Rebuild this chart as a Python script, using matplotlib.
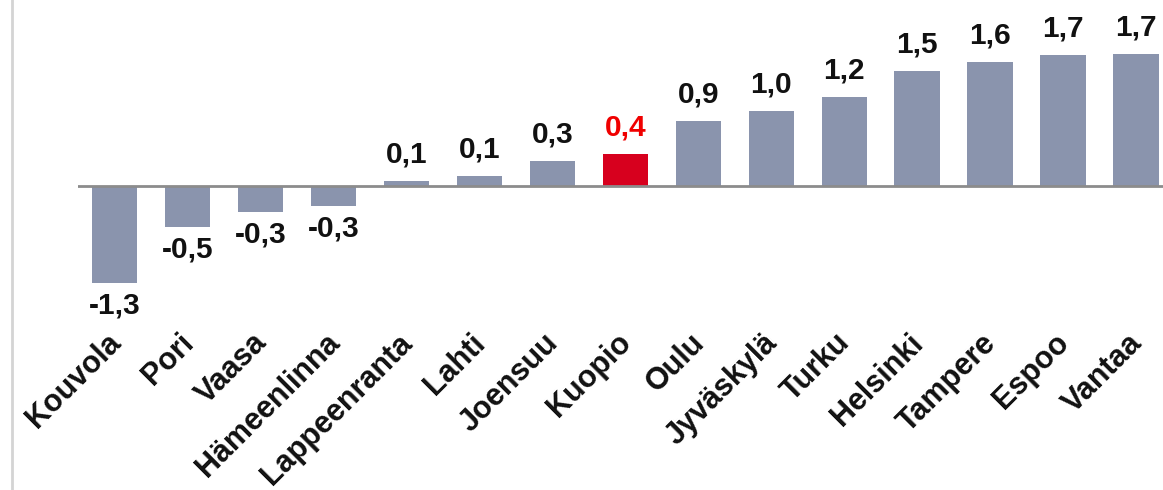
import matplotlib
matplotlib.use("Agg")
import matplotlib.pyplot as plt
from matplotlib.lines import Line2D
from matplotlib.transforms import ScaledTranslation

cities = ["Kouvola", "Pori", "Vaasa", "Hämeenlinna", "Lappeenranta", "Lahti",
          "Joensuu", "Kuopio", "Oulu", "Jyväskylä", "Turku", "Helsinki",
          "Tampere", "Espoo", "Vantaa"]
values = [-1.25, -0.53, -0.34, -0.26, 0.07, 0.13, 0.32, 0.41, 0.84, 0.97,
          1.15, 1.48, 1.60, 1.69, 1.70]
labels = ["-1,3", "-0,5", "-0,3", "-0,3", "0,1", "0,1", "0,3", "0,4", "0,9",
          "1,0", "1,2", "1,5", "1,6", "1,7", "1,7"]
highlight = "Kuopio"

plt.rcParams['font.family'] = ['Liberation Sans', 'DejaVu Sans']

W, H = 1163, 490
fig = plt.figure(figsize=(W / 100, H / 100), dpi=100)
ax = fig.add_axes([78 / W, 180 / H, 1085 / W, 310 / H])

bar_color = "#8A94AD"
red_bar = "#D7001E"
colors = [red_bar if c == highlight else bar_color for c in cities]
x = list(range(len(cities)))
ax.bar(x, values, width=0.62, color=colors, zorder=2)
ax.axhline(0, color="#8C8C8C", lw=2, zorder=3)

for xi, v, lab, c in zip(x, values, labels, cities):
    col = "#F00000" if c == highlight else "#111111"
    if v >= 0:
        ax.annotate(lab, (xi, v), xytext=(0, 9), textcoords="offset points",
                    ha="center", va="bottom", fontsize=21.5, fontweight="bold", color=col)
    else:
        ax.annotate(lab, (xi, v), xytext=(0, -6), textcoords="offset points",
                    ha="center", va="top", fontsize=21.5, fontweight="bold", color=col)

ax.set_xlim(-0.5, 14.37)
ax.set_ylim(-1.6, 2.4)
ax.set_xticks(x)
ax.set_xticklabels(cities, rotation=45, ha="right", rotation_mode="anchor",
                   fontsize=22, fontweight="bold", color="#111111")
ax.tick_params(axis="x", length=0, pad=10)
shift = ScaledTranslation(-9 / 100, -4 / 100, fig.dpi_scale_trans)
for t in ax.get_xticklabels():
    t.set_transform(t.get_transform() + shift)
ax.set_yticks([])
for s in ax.spines.values():
    s.set_visible(False)
ax.patch.set_alpha(0)

fig.add_artist(Line2D([11.5 / W, 11.5 / W], [0, 1], color="#D4D4D4", lw=2,
                      transform=fig.transFigure))

fig.savefig("out.png", dpi=100)
